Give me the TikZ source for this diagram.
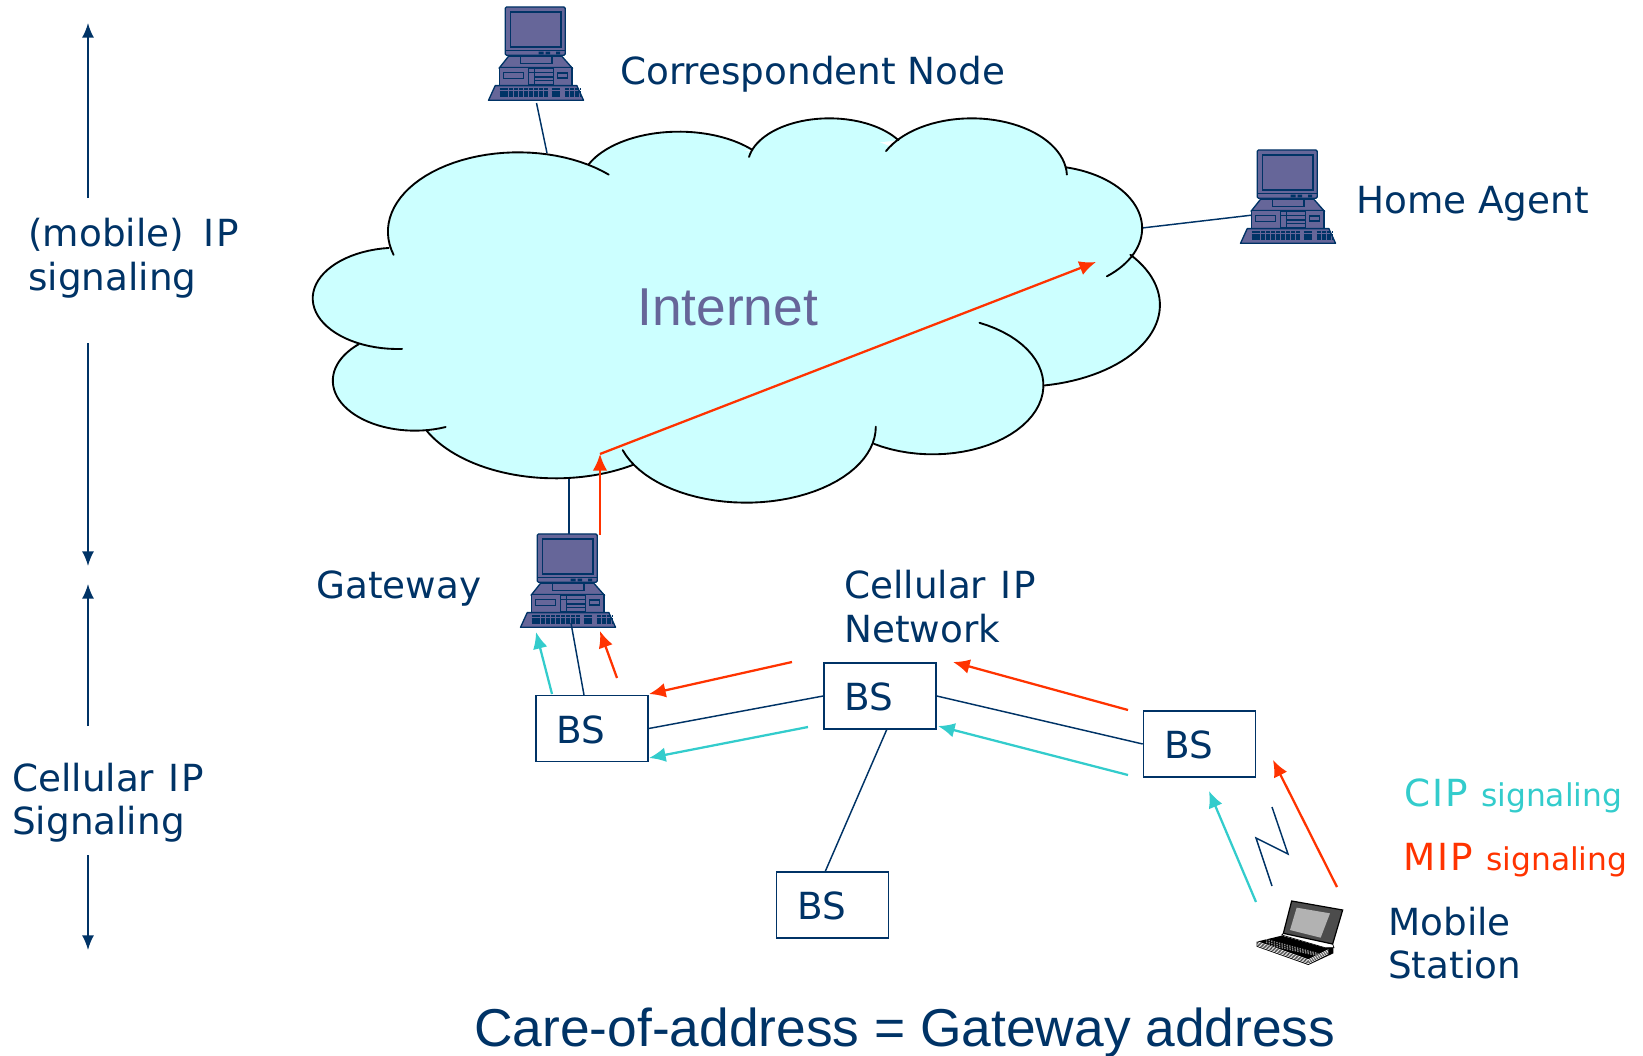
\documentclass[tikz,border=0pt]{standalone}
\usepackage{fontspec}
\setmainfont{DejaVu Sans}
\newfontfamily\arialfont{Liberation Sans}
\usetikzlibrary{arrows.meta}
\definecolor{NetNavy}{HTML}{003366}
\definecolor{NetRed}{HTML}{FF3300}
\definecolor{NetCyan}{HTML}{33CCCC}
\definecolor{NetCloud}{HTML}{CCFFFF}
\definecolor{NetPurple}{HTML}{666699}
\newcommand{\labelfont}{\fontsize{28}{32.3}\selectfont}
\newcommand{\smallfont}{\fontsize{23.5}{27}\selectfont}
\newcommand{\bigfont}{\arialfont\fontsize{40}{46}\selectfont}
\newcommand{\wideI}{\kern1.5pt I\kern1.5pt }
\tikzset{
    tag/.style={anchor=base west, inner sep=0pt, text=NetNavy, font=\labelfont, align=left},
    bsbox/.style={draw=NetNavy, line width=1.2pt, fill=white, minimum height=49.5pt,
        text width=53pt, inner xsep=15.5pt, inner ysep=0pt, text=NetNavy, font=\labelfont, align=left,
        text height=21.9pt, text depth=0pt},
    navyline/.style={draw=NetNavy, line width=1.1pt},
    redarrow/.style={draw=NetRed, line width=1.7pt, -{Latex[length=12.5pt,width=11pt]}},
    cyanarrow/.style={draw=NetCyan, line width=1.7pt, -{Latex[length=12.5pt,width=11pt]}},
    rangearrow/.style={draw=NetNavy, line width=1.2pt, -{Latex[length=11pt,width=9pt]}},
    cloudedge/.style={draw=black, line width=1.4pt, line cap=round},
    pics/workstation/.style={code={
        \begin{scope}[shift={(-17.8,-6.7)}, scale=1/3, draw=NetNavy, line width=1pt, fill=NetPurple]
            \filldraw[rounded corners=1pt] (105,20) rectangle (285,165);
            \filldraw (120,35) rectangle (272,140);
            \draw (108,150) -- (283,150);
            \fill[NetNavy] (205,154) rectangle (220,162) (226,154) rectangle (240,162) (258,154) rectangle (270,162);
            \filldraw (115,168) -- (275,168) -- (305,202) -- (88,202) -- cycle;
            \filldraw (150,167) rectangle (245,190);
            \filldraw (88,202) rectangle (305,262);
            \filldraw (100,216) rectangle (160,234);
            \filldraw (175,205) rectangle (250,252);
            \draw (175,216) -- (250,216) (192,230) -- (250,230) (192,241) -- (250,241) (192,205) -- (192,252);
            \filldraw (262,218) rectangle (292,233);
            \filldraw[line join=round] (75,256) -- (320,256) -- (340,300) -- (55,300) -- cycle;
            \foreach \r in {266,276,286}
            {
                \draw[line width=2pt, dash pattern=on 3pt off 0.7pt] (88,\r) -- (232,\r);
                \draw[line width=2pt, dash pattern=on 3pt off 0.7pt] (244,\r) -- (272,\r);
                \draw[line width=2pt, dash pattern=on 3pt off 0.7pt] (284,\r) -- (330,\r);
            }
        \end{scope}
    }},
}
% centre x, centre y, x radius, y radius, first and last angle of each cloud lobe
\newcommand{\lobelist}{205/565/148/152/87/264, 415/365/227/238/163/314, 695/230/172/165/204/318,
    957/165/142/140/190/328, 1205/200/166/175/206/358, 1330/355/172/188/-77/50,
    1290/585/243/245/-38/80, 1137/826/193/207/-65/122, 812/950/226/228/0/162,
    480/850/250/255/57/154, 235/812/143/150/68/227}

\begin{document}
\begin{tikzpicture}[x=0.75pt, y=-0.75pt]
    \useasboundingbox (0,0) rectangle (1643,1056);

    \coordinate (cn_tail) at (536.5,103);
    \coordinate (cloud_top) at (547,153);
    \coordinate (cloud_right) at (1142,228);
    \coordinate (ha_tail) at (1253,215);
    \coordinate (cloud_bottom) at (569,479);
    \coordinate (gw_top) at (569,534);
    \coordinate (gw_foot) at (571,623);
    \coordinate (tunnel_start) at (600,535);
    \coordinate (tunnel_bend) at (600,454);
    \coordinate (tunnel_end) at (1096,262);

    % links into the cloud go below it
    \draw[navyline] (cn_tail) -- (cloud_top);
    \draw[navyline] (cloud_right) -- (ha_tail);
    \draw[navyline] (cloud_bottom) -- (gw_top);

    \begin{scope}[shift={(280,110)}, x=0.4305pt, y=-0.25pt]
        \foreach \cx/\cy/\rx/\ry/\a/\b in \lobelist
        {
            \fill[NetCloud] plot[domain=\a:\b, samples=40] ({\cx+\rx*cos(\x)}, {\cy+\ry*sin(\x)});
        }
        \fill[NetCloud] (100,565) -- (190,420) -- (300,210) -- (415,140) -- (540,165) -- (695,80) -- (820,125)
            -- (957,40) -- (1065,110) -- (1205,40) -- (1370,180) -- (1480,330) -- (1487,435) -- (1520,585)
            -- (1333,820) -- (1137,1020) -- (1032,1000) -- (812,1160) -- (615,1060) -- (480,1095)
            -- (265,960) -- (110,812) -- (132,710) -- cycle;
        \foreach \cx/\cy/\rx/\ry/\a/\b in \lobelist
        {
            \draw[cloudedge] plot[domain=\a:\b, samples=40] ({\cx+\rx*cos(\x)}, {\cy+\ry*sin(\x)});
        }
    \end{scope}

    \node[tag, text=NetPurple, font=\bigfont] (internet) at (637,325) {Internet};

    \pic at (488,7) {workstation};
    \pic at (1240,150) {workstation};
    \pic at (520,534) {workstation};

    \node[tag] (cn_label) at (620,85) {Correspondent Node};
    \node[tag] (ha_label) at (1356,213) {Home Agent};
    \node[tag] (gw_label) at (316,598) {Gateway};
    \node[tag] (net_label) at (844,642) {Cellular \wideI P\\Network};
    \node[tag] (ms_label) at (1388,978.5) {Mobile\\Station};
    \node[tag] (ip_label) at (28,290) {(mobile)\hspace{4.5pt} \wideI P\\signaling};
    \node[tag] (cip_label) at (12,834.5) {Cellular \wideI P\\Signaling};
    \node[tag, text=NetCyan] (cip_key) at (1404,806) {C\wideI P\hspace{1pt} {\smallfont signaling}};
    \node[tag, text=NetRed] (mip_key) at (1403,870) {M\wideI P\hspace{1pt} {\smallfont signaling}};
    \node[tag, font=\bigfont] (caption) at (474,1046) {Care-of-address = Gateway address};

    \node[bsbox] (bs_a) at (592,728.5) {BS};
    \node[bsbox] (bs_b) at (880,696) {BS};
    \node[bsbox] (bs_c) at (1199.5,744) {BS};
    \node[bsbox] (bs_d) at (832.5,905) {BS};

    \coordinate (ip_up_tail) at (88,198);
    \coordinate (ip_up_tip) at (88,23);
    \coordinate (ip_down_tail) at (88,343);
    \coordinate (ip_down_tip) at (88,566);
    \coordinate (cip_up_tail) at (88,726);
    \coordinate (cip_up_tip) at (88,584);
    \coordinate (cip_down_tail) at (88,855);
    \coordinate (cip_down_tip) at (88,950);

    \draw[rangearrow] (ip_up_tail) -- (ip_up_tip);
    \draw[rangearrow] (ip_down_tail) -- (ip_down_tip);
    \draw[rangearrow] (cip_up_tail) -- (cip_up_tip);
    \draw[rangearrow] (cip_down_tail) -- (cip_down_tip);

    \coordinate (bs_d_top) at (825,872);
    \coordinate (bs_b_foot) at (887,729);
    \coordinate (bs_a_top) at (584,695);
    \draw[navyline] (gw_foot) -- (bs_a_top);
    \draw[navyline] (bs_a.east) -- (bs_b.west);
    \draw[navyline] (bs_b.east) -- (bs_c.west);
    \draw[navyline] (bs_b_foot) -- (bs_d_top);

    \coordinate (gw_red) at (600,631);
    \coordinate (gw_cyan) at (536,632);
    \draw[redarrow] (617,678) -- (gw_red);
    \draw[cyanarrow] (552,694) -- (gw_cyan);

    \draw[redarrow] (tunnel_start) -- (tunnel_bend);
    \draw[redarrow] (tunnel_bend) -- (tunnel_end);

    \draw[redarrow] (792,662) -- (649,694);
    \draw[cyanarrow] (808,727) -- (649,758);
    \draw[redarrow] (1128,710) -- (953,662);
    \draw[cyanarrow] (1128,775) -- (938,726);
    \draw[redarrow] (1337,887) -- (1273,760);
    \draw[cyanarrow] (1256,902) -- (1209,791);

    % radio link
    \draw[navyline] (1272,807) -- (1288,854) -- (1256,838) -- (1272,886);

    % laptop
    \begin{scope}[shift={(1250,895)}, scale=1/3]
        \fill[black] (20,140) -- (95,122) -- (225,158) -- (250,155) -- (250,175) -- (175,210) -- (20,155) -- cycle;
        \foreach \k in {0,1,2,3}
        {
            \draw[white, line width=0.45pt] (22,152-\k*4) -- (175,206-\k*4) -- (235,176-\k*4);
        }
        \foreach \k in {0,1,2}
        {
            \draw[black!45, line width=1pt, dash pattern=on 1pt off 1pt] (48,134+\k*7) -- (205,176+\k*3);
        }
        \filldraw[draw=black, fill=white, line width=0.5pt] (95,120) -- (105,112) -- (248,147) -- (252,158) -- (225,158) -- cycle;
        \filldraw[draw=black, fill=black!70, line width=0.9pt] (125,18) -- (278,45) -- (248,147) -- (100,115) -- cycle;
        \fill[black!30] (140,38) -- (240,55) -- (212,128) -- (120,105) -- cycle;
    \end{scope}
\end{tikzpicture}
\end{document}
